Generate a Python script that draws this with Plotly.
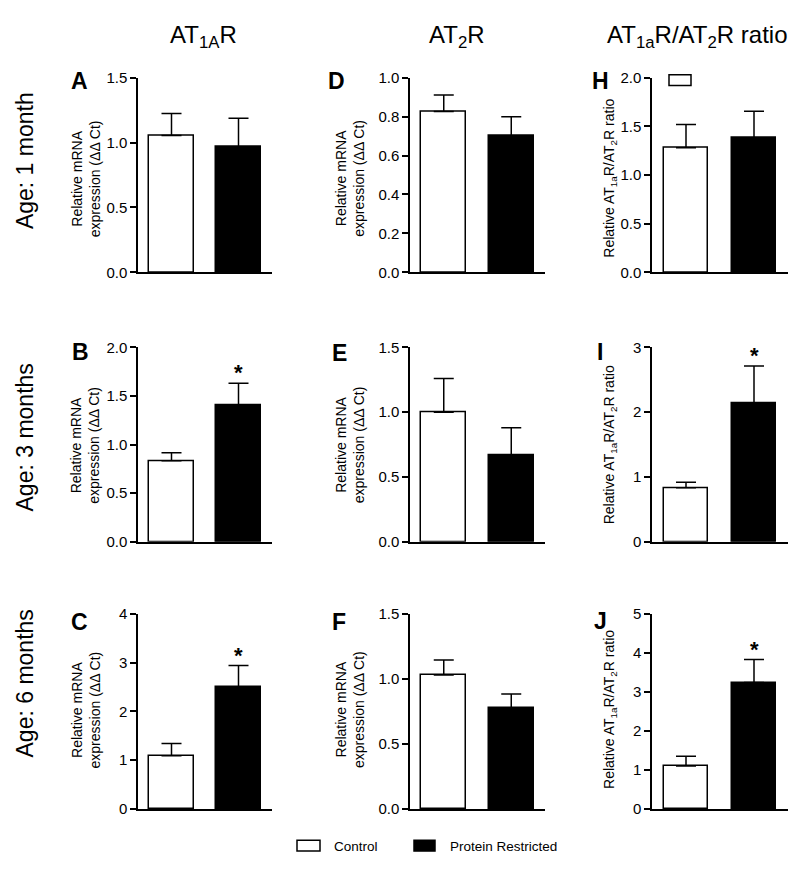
import plotly.graph_objects as go

# page is 800x872; the browser's default 8px body margin surrounds the figure
PAGE_W, PAGE_H = 800, 872
OFF = 8
W, H = PAGE_W - 2 * OFF, PAGE_H - 2 * OFF

# ---------------- data ----------------
groups = ["Control", "Protein Restricted"]

A_mean = [1.055, 0.967]; A_sem = [0.17, 0.22]
D_mean = [0.827, 0.700]; D_sem = [0.084, 0.10]
H_mean = [1.28, 1.38];   H_sem = [0.24, 0.275]
B_mean = [0.833, 1.40];  B_sem = [0.084, 0.23]
E_mean = [1.00, 0.666];  E_sem = [0.26, 0.214]
I_mean = [0.833, 2.14];  I_sem = [0.085, 0.57]
C_mean = [1.09, 2.505];  C_sem = [0.25, 0.435]
F_mean = [1.031, 0.778]; F_sem = [0.114, 0.107]
J_mean = [1.10, 3.24];   J_sem = [0.25, 0.59]

y_max = {"A": 1.5, "D": 1.0, "H": 2.0, "B": 2.0, "E": 1.5, "I": 3, "C": 4, "F": 1.5, "J": 5}
y_step = {"A": 0.5, "D": 0.2, "H": 0.5, "B": 0.5, "E": 0.5, "I": 1, "C": 1, "F": 0.5, "J": 1}
significant = ["B", "C", "I", "J"]

col_titles = ["AT<sub>1A</sub>R", "AT<sub>2</sub>R", "AT<sub>1a</sub>R/AT<sub>2</sub>R ratio"]
row_titles = ["Age: 1 month", "Age: 3 months", "Age: 6 months"]
mrna_label = "Relative mRNA<br>expression (ΔΔ Ct)"
ratio_label = "Relative AT<sub>1a</sub>R/AT<sub>2</sub>R ratio"

panels = [["A", "D", "H"], ["B", "E", "I"], ["C", "F", "J"]]
data = {"A": (A_mean, A_sem), "D": (D_mean, D_sem), "H": (H_mean, H_sem),
        "B": (B_mean, B_sem), "E": (E_mean, E_sem), "I": (I_mean, I_sem),
        "C": (C_mean, C_sem), "F": (F_mean, F_sem), "J": (J_mean, J_sem)}

# ---------------- layout geometry (page pixels) ----------------
col_px = [(138, 272), (410, 545), (652, 788)]
row_px = [(70, 268.5), (345, 543.5), (617, 816)]
letter_pos = {"A": (79, 73), "D": (336, 73), "H": (600, 73),
              "B": (80, 350), "E": (339, 351), "I": (600, 350),
              "C": (79, 625), "F": (339, 625), "J": (600, 624)}
ylab_x = [85.5, 350, 610]
ylab_y = [173, 445, 715]

FONT = "Liberation Sans, Arial, sans-serif"

def fx(x):
    return (x - OFF) / W

def fy(y):
    return 1 - (y - OFF) / H

fig = go.Figure()
annotations = []
shapes = []

n = 0
for r in range(3):
    for c in range(3):
        n += 1
        key = panels[r][c]
        mean, sem = data[key]
        xa = "x" if n == 1 else f"x{n}"
        ya = "y" if n == 1 else f"y{n}"
        fig.add_trace(go.Bar(
            x=[0, 1], y=mean, width=0.66,
            marker=dict(color=["white", "black"], line=dict(color="black", width=1.5)),
            error_y=dict(type="data", symmetric=False, array=sem, arrayminus=[0, 0],
                         color="black", thickness=1.5, width=10),
            xaxis=xa, yaxis=ya, showlegend=False, hoverinfo="skip",
        ))
        x0, x1 = col_px[c]
        y0, y1 = row_px[r]
        fig.layout[f"xaxis{'' if n == 1 else n}"] = dict(
            domain=[fx(x0), fx(x1)], range=[-0.5, 1.5], anchor=ya,
            showticklabels=False, ticks="", showline=True, linecolor="black",
            linewidth=1.5, showgrid=False, zeroline=False, fixedrange=True)
        ymax = y_max[key]
        fig.layout[f"yaxis{'' if n == 1 else n}"] = dict(
            domain=[fy(y1), fy(y0)], range=[0, ymax], anchor=xa,
            tick0=0, dtick=y_step[key], ticks="outside", ticklen=6, tickwidth=1.5,
            tickcolor="black", showline=True, linecolor="black", linewidth=1.5,
            showgrid=False, zeroline=False, fixedrange=True,
            tickformat=".0f" if y_step[key] >= 1 else ".1f",
            tickfont=dict(family=FONT, size=15, color="black"))
        # panel letter
        lx, ly = letter_pos[key]
        annotations.append(dict(x=fx(lx), y=fy(ly), xref="paper", yref="paper",
                                text=f"<b>{key}</b>", showarrow=False,
                                xanchor="center", yanchor="middle",
                                font=dict(family=FONT, size=23, color="black")))
        # y-axis label
        annotations.append(dict(x=fx(ylab_x[c]), y=fy(ylab_y[r]), xref="paper", yref="paper",
                                text=ratio_label if c == 2 else mrna_label,
                                textangle=-90, showarrow=False,
                                xanchor="center", yanchor="middle",
                                font=dict(family=FONT, size=14, color="black")))
        # significance star
        if key in significant:
            annotations.append(dict(x=1, y=mean[1] + sem[1], xref=xa, yref=ya,
                                    text="<b>*</b>", showarrow=False,
                                    xanchor="center", yanchor="bottom", yshift=-4,
                                    font=dict(family=FONT, size=22, color="black")))

# column titles
title_x = [203, 457, 697]
for c in range(3):
    annotations.append(dict(x=fx(title_x[c]), y=fy(28), xref="paper", yref="paper",
                            text=col_titles[c], showarrow=False,
                            xanchor="center", yanchor="middle",
                            font=dict(family=FONT, size=24, color="black")))
# row titles
row_y = [155, 437, 688]
for r in range(3):
    annotations.append(dict(x=fx(25), y=fy(row_y[r]), xref="paper", yref="paper",
                            text=row_titles[r], textangle=-90, showarrow=False,
                            xanchor="center", yanchor="middle",
                            font=dict(family=FONT, size=23, color="black")))

# stray legend box in panel H
shapes.append(dict(type="rect", xref="paper", yref="paper",
                   x0=fx(669), x1=fx(691), y0=fy(78), y1=fy(67),
                   line=dict(color="black", width=1.5), fillcolor="white"))

# bottom legend
shapes.append(dict(type="rect", xref="paper", yref="paper",
                   x0=fx(297), x1=fx(320), y0=fy(859), y1=fy(848),
                   line=dict(color="black", width=1.5), fillcolor="white"))
shapes.append(dict(type="rect", xref="paper", yref="paper",
                   x0=fx(414), x1=fx(435), y0=fy(859), y1=fy(848),
                   line=dict(color="black", width=1.5), fillcolor="black"))
annotations.append(dict(x=fx(332), y=fy(854), xref="paper", yref="paper",
                        text=groups[0], showarrow=False, xanchor="left", yanchor="middle",
                        font=dict(family=FONT, size=13.5, color="black")))
annotations.append(dict(x=fx(448), y=fy(854), xref="paper", yref="paper",
                        text=groups[1], showarrow=False, xanchor="left", yanchor="middle",
                        font=dict(family=FONT, size=13.5, color="black")))

fig.update_layout(width=W, height=H, margin=dict(l=0, r=0, t=0, b=0),
                  paper_bgcolor="white", plot_bgcolor="white",
                  annotations=annotations, shapes=shapes, bargap=0,
                  font=dict(family=FONT, color="black"))

fig.write_html("out.html")
